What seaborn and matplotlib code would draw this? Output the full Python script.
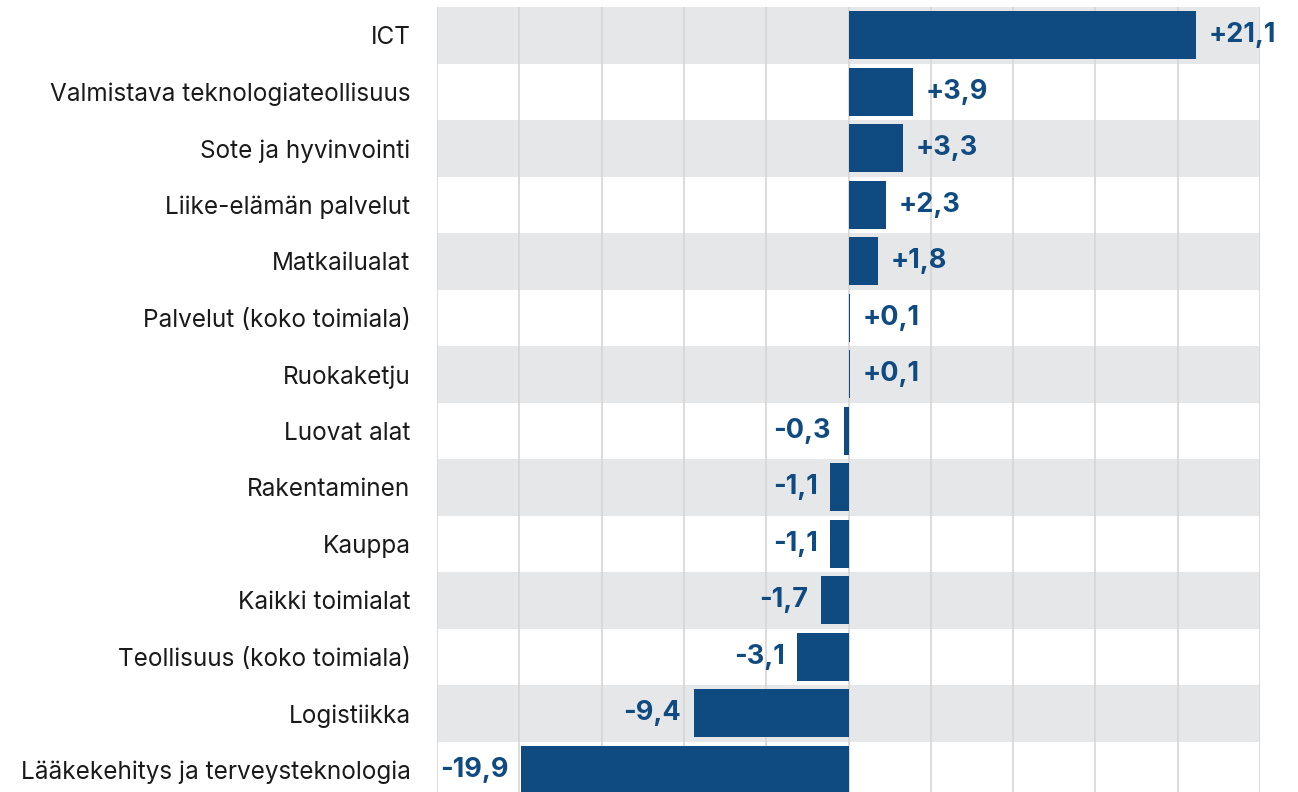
import matplotlib.pyplot as plt
import pandas as pd
import seaborn as sns

categories = ['ICT', 'Valmistava teknologiateollisuus', 'Sote ja hyvinvointi',
              'Liike-elämän palvelut', 'Matkailualat', 'Palvelut (koko toimiala)',
              'Ruokaketju', 'Luovat alat', 'Rakentaminen', 'Kauppa',
              'Kaikki toimialat', 'Teollisuus (koko toimiala)', 'Logistiikka',
              'Lääkekehitys ja terveysteknologia']
values = [21.1, 3.9, 3.3, 2.3, 1.8, 0.1, 0.1, -0.3, -1.1, -1.1, -1.7, -3.1, -9.4, -19.9]

bar_color = '#0F4A80'
band_color = '#E6E7E9'

sns.set_style('white')
plt.rcParams['font.family'] = ['Inter', 'DejaVu Sans']

df = pd.DataFrame({'category': categories, 'value': values})

fig = plt.figure(figsize=(12.98, 7.92), dpi=100)
# bottom row runs slightly past the lower edge, as in the original
ax = fig.add_axes([437 / 1298, -6 / 792, (1260 - 437) / 1298, (792 - 7 + 6) / 792])

# alternating row bands
for i in range(len(categories)):
    if i % 2 == 0:
        ax.axhspan(i - 0.5, i + 0.5, color=band_color, zorder=0, lw=0)

# vertical gridlines
for xv in range(-25, 30, 5):
    ax.axvline(xv, color='#D6D6D6', lw=1.2, zorder=1)

sns.barplot(data=df, x='value', y='category', orient='h', color=bar_color,
            width=0.85, saturation=1, linewidth=0, ax=ax, zorder=3)

labels = ['{:+.1f}'.format(v).replace('.', ',') for v in values]
ax.bar_label(ax.containers[0], labels=labels, padding=9, fontsize=19.5,
             fontweight='bold', color=bar_color)

ax.set_xlim(-25, 25)
ax.set_ylim(len(categories) - 0.5, -0.5)
ax.set_xlabel('')
ax.set_ylabel('')
ax.set_xticks([])
ax.tick_params(axis='y', length=0, pad=19, labelsize=17.5, labelcolor='#1a1a1a')
for s in ax.spines.values():
    s.set_visible(False)

plt.savefig('out.png', dpi=100)
